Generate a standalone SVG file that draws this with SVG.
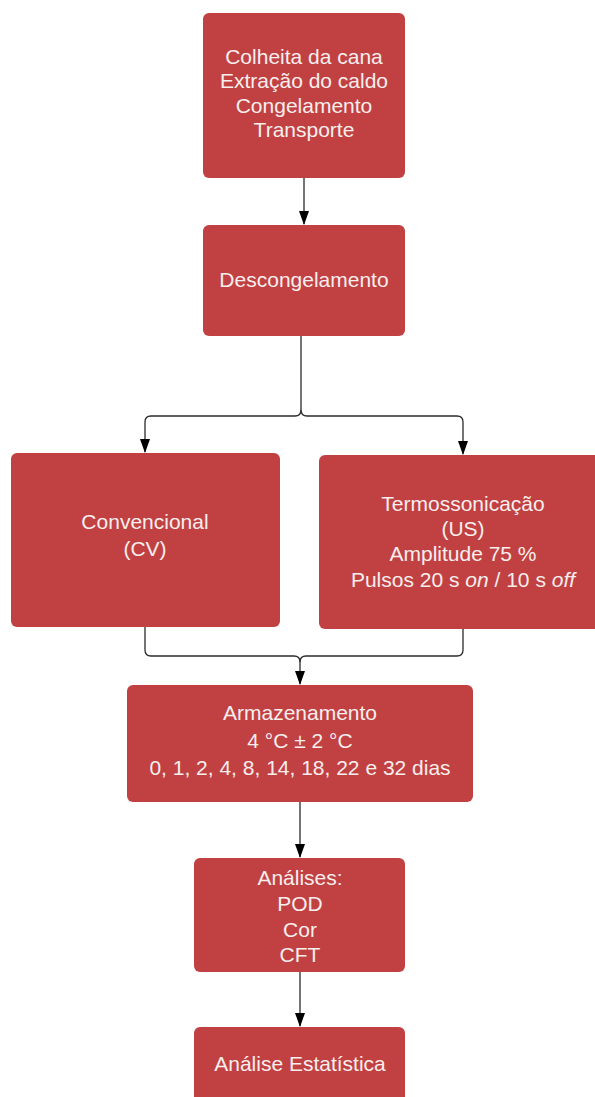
<svg xmlns="http://www.w3.org/2000/svg" width="595" height="1097" viewBox="0 0 595 1097">
<style>
.box{fill:#c14142;}
.t{font-family:"Liberation Sans",Arial,sans-serif;font-size:21px;fill:#f7eeee;text-anchor:middle;}
.c{fill:none;stroke:#2b2b2b;stroke-width:1.3;}
.a{marker-end:url(#arr);}
</style>
<defs>
<marker id="arr" viewBox="0 0 14 10" refX="13" refY="5" markerWidth="14" markerHeight="10" markerUnits="userSpaceOnUse" orient="auto">
<path d="M0,0 L14,5 L0,10 Z" fill="#000"/>
</marker>
</defs>
<rect width="595" height="1097" fill="#fff"/>
<g id="connectors">
<path class="c a" d="M304,178 L304,224"/>
<path class="c a" d="M301,336 L301,410 Q301,416 295,416 L151,416 Q145,416 145,422 L145,452"/>
<path class="c a" d="M301,410 Q301,416 307,416 L457,416 Q463,416 463,422 L463,454"/>
<path class="c" d="M145,627 L145,650 Q145,656 151,656 L294,656 Q300,656 300,662"/>
<path class="c a" d="M463,629 L463,650 Q463,656 457,656 L306,656 Q300,656 300,662 L300,684"/>
<path class="c a" d="M300,802 L300,857"/>
<path class="c a" d="M300,972 L300,1026"/>
</g>
<g id="n1">
<rect class="box" x="203" y="13" width="202" height="165" rx="6"/>
<text class="t" x="304" y="64">Colheita da cana</text>
<text class="t" x="304" y="88">Extração do caldo</text>
<text class="t" x="304" y="113">Congelamento</text>
<text class="t" x="304" y="137">Transporte</text>
</g>
<g id="n2">
<rect class="box" x="203" y="225" width="202" height="111" rx="6"/>
<text class="t" x="304" y="287">Descongelamento</text>
</g>
<g id="n3">
<rect class="box" x="11" y="453" width="269" height="174" rx="6"/>
<text class="t" x="145" y="529">Convencional</text>
<text class="t" x="145" y="556">(CV)</text>
</g>
<g id="n4">
<rect class="box" x="319" y="455" width="290" height="174" rx="6"/>
<text class="t" x="463" y="511">Termossonicação</text>
<text class="t" x="463" y="536">(US)</text>
<text class="t" x="463" y="561">Amplitude 75 %</text>
<text class="t" x="463" y="587">Pulsos 20 s <tspan font-style="italic">on</tspan> / 10 s <tspan font-style="italic">off</tspan></text>
</g>
<g id="n5">
<rect class="box" x="127" y="685" width="346" height="117" rx="6"/>
<text class="t" x="300" y="720">Armazenamento</text>
<text class="t" x="300" y="748">4 °C ± 2 °C</text>
<text class="t" x="300" y="775">0, 1, 2, 4, 8, 14, 18, 22 e 32 dias</text>
</g>
<g id="n6">
<rect class="box" x="194" y="858" width="211" height="114" rx="6"/>
<text class="t" x="300" y="885">Análises:</text>
<text class="t" x="300" y="911">POD</text>
<text class="t" x="300" y="937">Cor</text>
<text class="t" x="300" y="962">CFT</text>
</g>
<g id="n7">
<rect class="box" x="194" y="1027" width="211" height="90" rx="6"/>
<text class="t" x="300" y="1071">Análise Estatística</text>
</g>
</svg>
